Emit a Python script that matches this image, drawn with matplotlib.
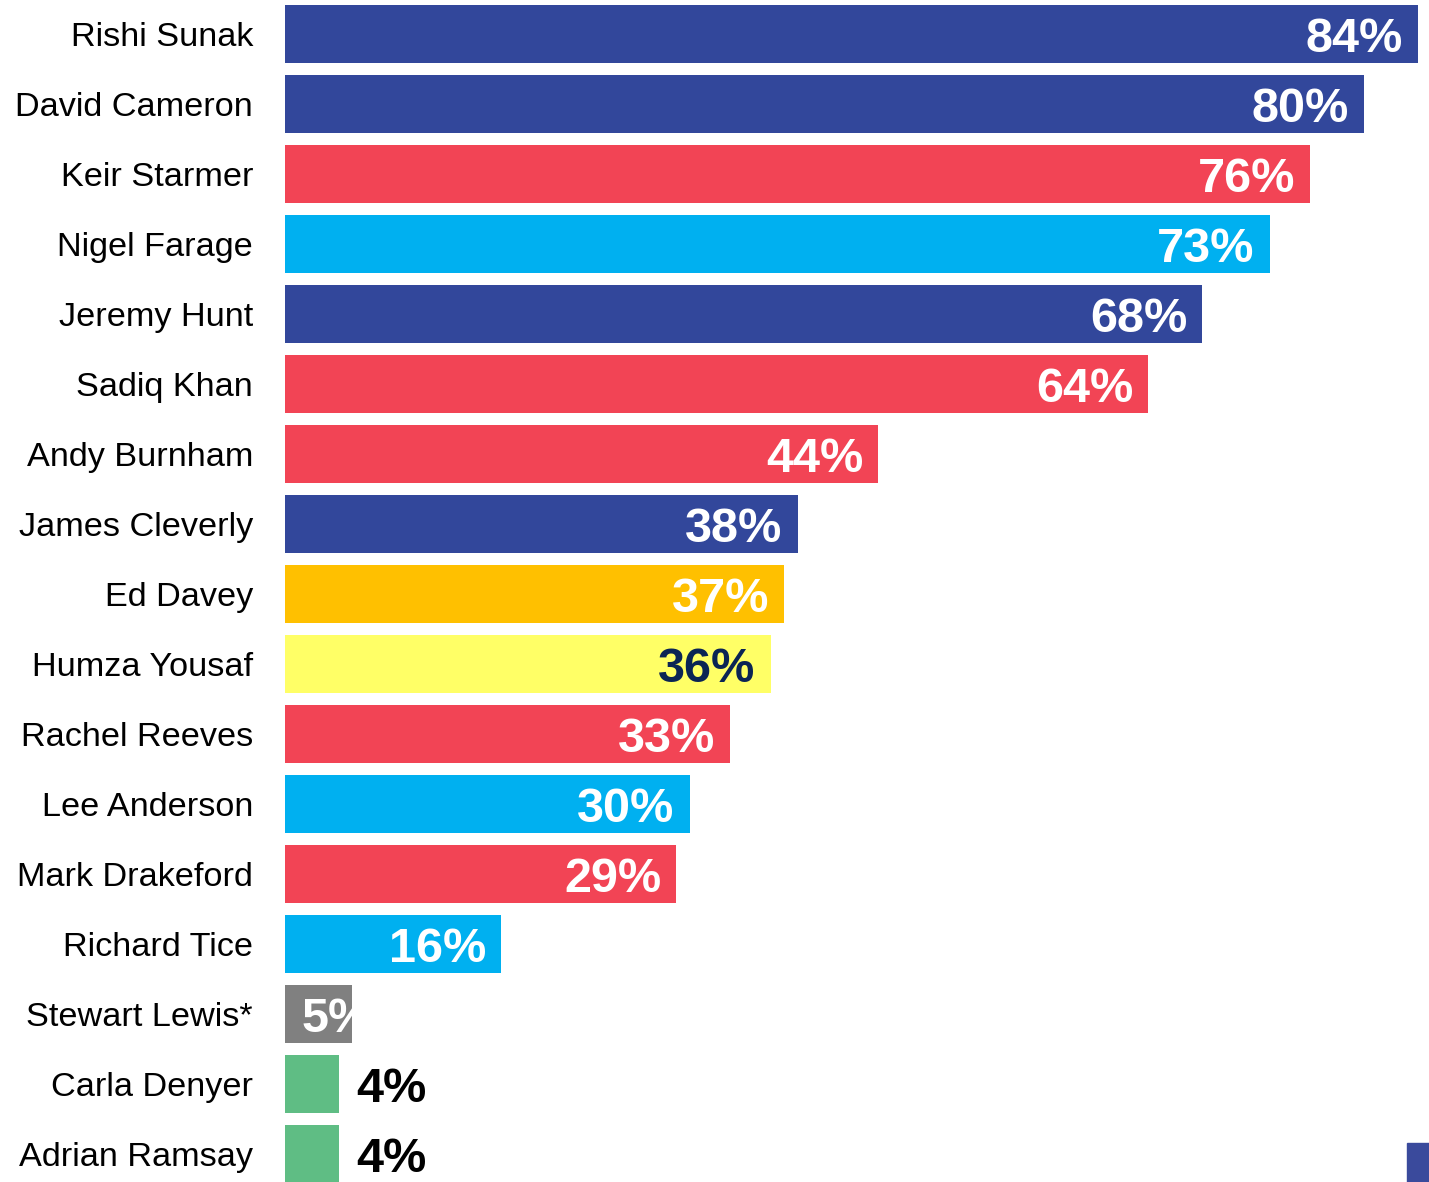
import matplotlib
matplotlib.use("Agg")
import matplotlib.pyplot as plt
from matplotlib.patches import Rectangle

names = ["Rishi Sunak", "David Cameron", "Keir Starmer", "Nigel Farage", "Jeremy Hunt",
         "Sadiq Khan", "Andy Burnham", "James Cleverly", "Ed Davey", "Humza Yousaf",
         "Rachel Reeves", "Lee Anderson", "Mark Drakeford", "Richard Tice", "Stewart Lewis*",
         "Carla Denyer", "Adrian Ramsay"]
values = [84, 80, 76, 73, 68, 64, 44, 38, 37, 36, 33, 30, 29, 16, 5, 4, 4]
parties = ["con", "con", "lab", "ref", "con", "lab", "lab", "con", "ld", "snp",
           "lab", "ref", "lab", "ref", "oth", "grn", "grn"]

party_colors = {"con": "#32479B", "lab": "#F24455", "ref": "#00B0F0", "ld": "#FFC000",
                "snp": "#FFFF66", "oth": "#808080", "grn": "#5FBD84"}
label_colors = {"snp": "#0B2454"}

plt.rcParams['font.family'] = ['Liberation Sans', 'DejaVu Sans']

W, H = 1429, 1182
fig = plt.figure(figsize=(W / 100, H / 100), dpi=100)
ax = fig.add_axes([285 / W, 0, 1 - 285 / W, 1])

px_per_unit = (1418 - 285) / 84.0
ax.set_xlim(0, (W - 285) / px_per_unit)
ax.set_ylim((H - 34) / 70.0, -34 / 70.0)

ypos = list(range(len(names)))
bars = ax.barh(ypos, values, height=58 / 70.0,
               color=[party_colors[p] for p in parties], linewidth=0)

pad = 15 / px_per_unit
dy = 0.08
for y, v, p, bar in zip(ypos, values, parties, bars):
    if p == "grn":
        ax.text(v + 17 / px_per_unit, y + dy, f"{v}%", ha="left", va="center",
                fontsize=35, fontweight="bold", color="black")
    else:
        col = label_colors.get(p, "white")
        if v * px_per_unit < 100:
            t = ax.text(17 / px_per_unit, y + dy, f"{v}%", ha="left", va="center",
                        fontsize=35, fontweight="bold", color=col)
        else:
            t = ax.text(v - pad, y + dy, f"{v}%", ha="right", va="center",
                        fontsize=35, fontweight="bold", color=col)
        t.set_clip_path(bar)

ax.set_yticks(ypos)
ax.set_yticklabels(names, fontsize=24.7)
ax.tick_params(axis="y", length=0, pad=23)
ax.set_xticks([])
for s in ax.spines.values():
    s.set_visible(False)

fig.patches.append(Rectangle((1407 / W, 0), 22 / W, 39 / H, transform=fig.transFigure,
                             color="#3A4A9C", zorder=5))

fig.savefig("out.png", dpi=100)
